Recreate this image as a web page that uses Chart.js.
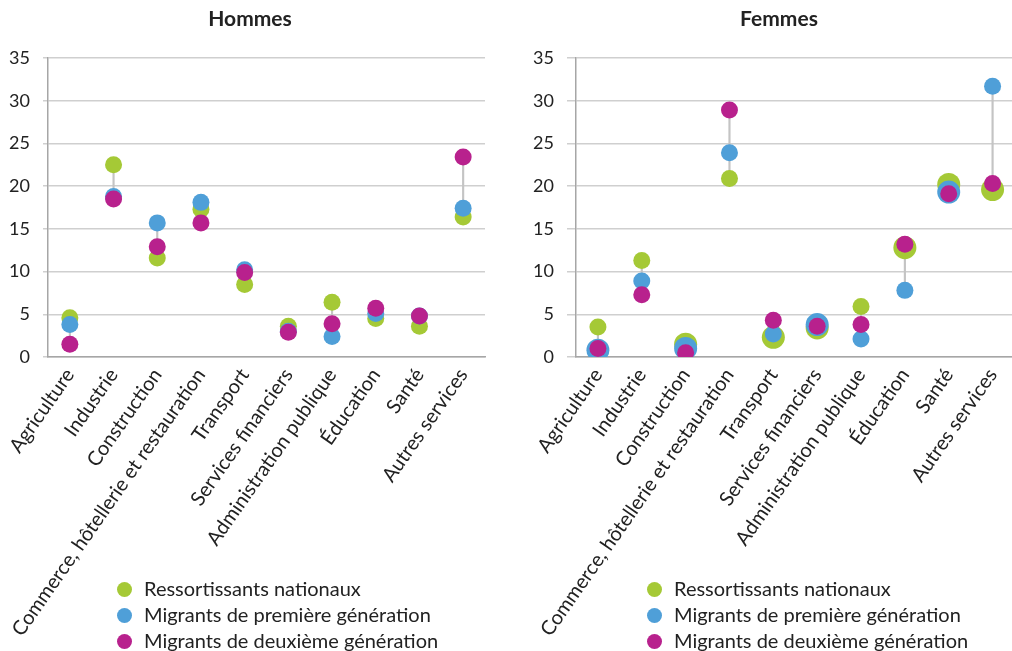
<!DOCTYPE html>
<html>
<head>
<meta charset="utf-8">
<script src="https://cdn.jsdelivr.net/npm/chart.js@4.4.1/dist/chart.umd.min.js"></script>
<style>
  body { margin: 0; background: #fff; font-family: Lato, sans-serif; color: #222; }
  #wrap { position: relative; width: 1012px; height: 651px; overflow: hidden; }
  .box { position: absolute; top: 0; height: 651px; }
  .titre { position: absolute; top: 5px; font-weight: bold; font-size: 21px; text-align: center; }
  .legende { position: absolute; top: 575px; font-size: 20px; line-height: 26px; }
  .legende div { white-space: nowrap; }
  .legende span { display: inline-block; width: 15px; height: 15px; border-radius: 50%; margin-right: 12px; vertical-align: -1px; }
</style>
</head>
<body>
<div id="wrap">
  <div class="box" style="left:0;width:506px"><canvas id="hommes"></canvas></div>
  <div class="box" style="left:506px;width:520px"><canvas id="femmes"></canvas></div>
  <div class="titre" style="left:150px;width:200px">Hommes</div>
  <div class="titre" style="left:679px;width:200px">Femmes</div>
  <div class="legende" id="leg1" style="left:117px"></div>
  <div class="legende" id="leg2" style="left:647px"></div>
</div>
<script>
"use strict";

var categories = ['Agriculture', 'Industrie', 'Construction', 'Commerce, hôtellerie et restauration', 'Transport',
    'Services financiers', 'Administration publique', 'Éducation', 'Santé', 'Autres services'];
var series = ['Ressortissants nationaux', 'Migrants de première génération', 'Migrants de deuxième génération'];
var yTicks = [0, 5, 10, 15, 20, 25, 30, 35];

var hommesNationaux = [4.6, 22.5, 11.6, 17.3, 8.5, 3.6, 6.4, 4.5, 3.6, 16.4];
var hommesPremiere = [3.8, 18.8, 15.7, 18.1, 10.2, 3.0, 2.4, 5.1, 4.8, 17.4];
var hommesDeuxieme = [1.5, 18.5, 12.9, 15.7, 9.9, 2.9, 3.9, 5.7, 4.8, 23.4];

var femmesNationaux = [3.5, 11.3, 1.5, 20.9, 2.3, 3.4, 5.9, 12.8, 20.2, 19.6];
var femmesPremiere = [0.8, 8.9, 1.0, 23.9, 2.7, 3.8, 2.1, 7.8, 19.3, 31.7];
var femmesDeuxieme = [1.0, 7.3, 0.5, 28.9, 4.3, 3.6, 3.8, 13.2, 19.1, 20.3];

/* categories where the marker is drawn larger (Femmes) */
var femmesNationauxGros = [2, 4, 5, 7, 8, 9];
var femmesPremiereGros = [0, 2, 5, 8];

var couleurs = ['#a5c936', '#4f9fd8', '#b8218d'];

function tailles(gros) {
    return categories.map(function (c, i) {
        return gros.indexOf(i) >= 0 ? 11.5 : 8.5;
    });
}

function makeChart(id, data, gros, axeLargeur, tickLen, padRight) {
    var ranges = categories.map(function (c, i) {
        var v = [data[0][i], data[1][i], data[2][i]];
        return [Math.min.apply(null, v), Math.max.apply(null, v)];
    });
    var datasets = [{
        type: 'bar',
        label: 'écart',
        data: ranges,
        backgroundColor: '#c4c4c4',
        barThickness: 1.5,
        order: 10
    }];
    series.forEach(function (s, k) {
        datasets.push({
            type: 'line',
            label: s,
            data: data[k],
            showLine: false,
            pointRadius: tailles(gros[k]),
            pointHoverRadius: tailles(gros[k]),
            pointBackgroundColor: couleurs[k],
            pointBorderWidth: 0,
            borderColor: couleurs[k],
            backgroundColor: couleurs[k],
            order: 3 - k
        });
    });
    return new Chart(document.getElementById(id), {
        type: 'bar',
        data: { labels: categories, datasets: datasets },
        options: {
            animation: false,
            responsive: true,
            maintainAspectRatio: false,
            layout: { padding: { top: 58, right: padRight, bottom: 0, left: 0 } },
            plugins: {
                legend: { display: false },
                tooltip: { enabled: false }
            },
            scales: {
                x: {
                    offset: true,
                    grid: { drawOnChartArea: false, drawTicks: false },
                    border: { display: true, color: '#a6a6a6', width: 1.5 },
                    ticks: {
                        autoSkip: false,
                        minRotation: 55,
                        maxRotation: 55,
                        padding: 7,
                        color: '#222',
                        font: { family: 'Lato', size: 20 }
                    },
                    afterFit: function (scale) { scale.height = 294; }
                },
                y: {
                    min: 0,
                    max: 35,
                    afterBuildTicks: function (scale) {
                        scale.ticks = yTicks.map(function (v) { return { value: v }; });
                    },
                    grid: { color: '#cfcfcf', lineWidth: 1.5, tickLength: tickLen },
                    border: { display: true, color: '#a6a6a6', width: 1.5 },
                    ticks: {
                        padding: 13,
                        color: '#222',
                        font: { family: 'Lato', size: 18 }
                    },
                    afterFit: function (scale) { scale.width = axeLargeur; }
                }
            }
        }
    });
}

function legende(id) {
    var el = document.getElementById(id);
    series.forEach(function (s, k) {
        var row = document.createElement('div');
        var dot = document.createElement('span');
        dot.style.background = couleurs[k];
        row.appendChild(dot);
        row.appendChild(document.createTextNode(s));
        el.appendChild(row);
    });
}

Promise.all([document.fonts.load('18px Lato'), document.fonts.load('bold 21px Lato')]).then(function () {
    makeChart('hommes', [hommesNationaux, hommesPremiere, hommesDeuxieme], [[], [], []], 48, 5, 21);
    makeChart('femmes', [femmesNationaux, femmesPremiere, femmesDeuxieme], [femmesNationauxGros, femmesPremiereGros, []], 70, 9, 0);
    legende('leg1');
    legende('leg2');
});
</script>
</body>
</html>
